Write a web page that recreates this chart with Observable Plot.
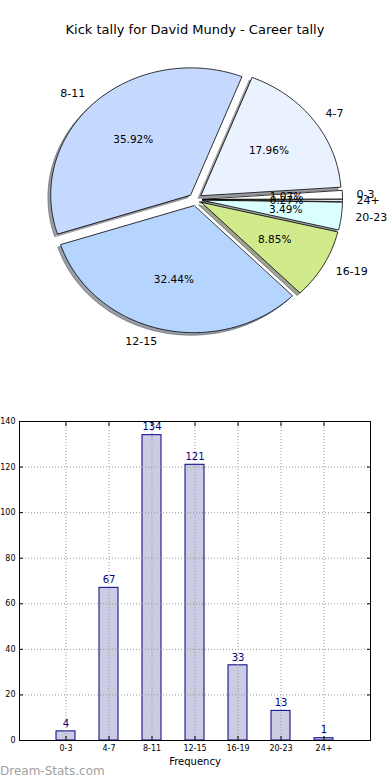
<!DOCTYPE html>
<html>
<head>
<meta charset="utf-8">
<script src="https://cdn.jsdelivr.net/npm/d3@7"></script>
<script src="https://cdn.jsdelivr.net/npm/@observablehq/plot@0.6"></script>
<style>
  html, body { margin: 0; padding: 0; background: #fff; }
  #wrap { position: relative; width: 390px; height: 780px; overflow: hidden; font-family: "DejaVu Sans", sans-serif; }
  #title { position: absolute; left: 0; top: 21px; width: 390px; text-align: center; font-size: 13px; line-height: 18px; color: #000; }
  #pie { position: absolute; left: 0; top: 0; }
  #bar { position: absolute; left: 0; top: 410px; }
  #mark { position: absolute; left: 0; top: 763px; font-size: 12px; color: #a0a0a0; line-height: 16px; }
</style>
</head>
<body>
<div id="wrap">
  <div id="pie"></div>
  <div id="title">Kick tally for David Mundy - Career tally</div>
  <div id="bar"></div>
  <div id="mark">Dream-Stats.com</div>
</div>
<script>
// ---- data ----
const categories = ["0-3", "4-7", "8-11", "12-15", "16-19", "20-23", "24+"];
const counts = [4, 67, 134, 121, 33, 13, 1];
const sliceColors = ["#ffffff", "#eaf1ff", "#c5d9fe", "#b5d5ff", "#d1ea8c", "#d9ffff", "#e8e8e8"];
const yTicks = [0, 20, 40, 60, 80, 100, 120, 140];

// ---- pie geometry (matplotlib-style: start at 0 rad, counter-clockwise, explode 0.05) ----
const total = d3.sum(counts);
const explode = 0.05;
let cum = 0;
const slices = counts.map((c, i) => {
  const a0 = cum / total * 2 * Math.PI;
  cum += c;
  const a1 = cum / total * 2 * Math.PI;
  const mid = (a0 + a1) / 2;
  const ox = explode * Math.cos(mid), oy = explode * Math.sin(mid);
  const n = Math.max(2, Math.ceil((a1 - a0) / (Math.PI / 180)));
  const pts = [{x: ox, y: oy}];
  for (let k = 0; k <= n; k++) {
    const a = a0 + (a1 - a0) * k / n;
    pts.push({x: ox + Math.cos(a), y: oy + Math.sin(a)});
  }
  return {
    cat: categories[i], color: sliceColors[i], pts,
    lx: ox + 1.1 * Math.cos(mid), ly: oy + 1.1 * Math.sin(mid),
    px: ox + 0.6 * Math.cos(mid), py: oy + 0.6 * Math.sin(mid),
    pct: (c / total * 100).toFixed(2) + "%"
  };
});

const pieMarks = [];
// shadows first
slices.forEach(s => {
  const c = d3.rgb(s.color);
  const sh = d3.rgb(c.r * 0.3, c.g * 0.3, c.b * 0.3).formatHex();
  pieMarks.push(Plot.line(s.pts, {
    x: d => d.x - 0.02, y: d => d.y - 0.02, curve: "linear-closed",
    fill: sh, fillOpacity: 0.5, stroke: sh, strokeOpacity: 0.5, strokeWidth: 1
  }));
});
slices.forEach(s => {
  pieMarks.push(Plot.line(s.pts, {
    x: "x", y: "y", curve: "linear-closed",
    fill: s.color, stroke: "#000", strokeWidth: 0.8, strokeLinejoin: "miter"
  }));
});
pieMarks.push(Plot.text(slices.filter(s => s.lx > 0), {x: "lx", y: "ly", text: "cat", textAnchor: "start", fontSize: 11, fill: "#000"}));
pieMarks.push(Plot.text(slices.filter(s => s.lx <= 0), {x: "lx", y: "ly", text: "cat", textAnchor: "end", fontSize: 11, fill: "#000"}));
pieMarks.push(Plot.text(slices, {x: "px", y: "py", text: "pct", fontSize: 10.5, fill: "#000"}));

const rx = 140, ry = 127, cx = 195, cy = 199, W = 390, H = 400;
const pie = Plot.plot({
  width: W, height: H,
  marginTop: 0, marginBottom: 0, marginLeft: 0, marginRight: 0,
  x: {domain: [-cx / rx, (W - cx) / rx], axis: null},
  y: {domain: [-(H - cy) / ry, cy / ry], axis: null},
  style: {fontFamily: "DejaVu Sans, sans-serif", background: "transparent", overflow: "visible"},
  marks: pieMarks
});
document.getElementById("pie").appendChild(pie);

// ---- bar chart ----
const barData = categories.map((c, i) => ({cat: c, v: counts[i]}));
const bar = Plot.plot({
  width: 390, height: 370,
  marginTop: 11, marginBottom: 40, marginLeft: 19, marginRight: 20,
  x: {type: "band", domain: categories, paddingInner: 0.55, paddingOuter: 0.775},
  y: {domain: [0, 140]},
  style: {fontFamily: "DejaVu Sans, sans-serif", fontSize: "8px", background: "transparent", overflow: "visible", color: "#000"},
  marks: [
    Plot.barY(barData, {x: "cat", y: "v", fill: "#cbcbe3", stroke: "#000080", strokeWidth: 1}),
    Plot.gridY(yTicks.slice(1, -1), {stroke: "#999", strokeOpacity: 1, strokeDasharray: "1,2"}),
    Plot.gridX({stroke: "#999", strokeOpacity: 1, strokeDasharray: "1,2"}),
    Plot.text(barData, {x: "cat", y: "v", text: d => String(d.v), dy: -8, fontSize: 10, fill: "#000080"}),
    Plot.axisY(yTicks, {tickSize: 0, tickPadding: 4, fontSize: 8, label: null}),
    Plot.axisY(yTicks, {anchor: "left", tickSize: -4, tickFormat: () => "", label: null}),
    Plot.axisY(yTicks, {anchor: "right", tickSize: -4, tickFormat: () => "", label: null}),
    Plot.axisX({tickSize: 0, tickPadding: 5, fontSize: 8, label: null}),
    Plot.axisX({anchor: "bottom", tickSize: -4, tickFormat: () => "", label: null}),
    Plot.axisX({anchor: "top", tickSize: -4, tickFormat: () => "", label: null}),
    Plot.text(["Frequency"], {frameAnchor: "bottom", dy: 24, fontSize: 10, fill: "#000"}),
    Plot.frame({stroke: "#000", strokeWidth: 1})
  ]
});
document.getElementById("bar").appendChild(bar);
</script>
</body>
</html>
